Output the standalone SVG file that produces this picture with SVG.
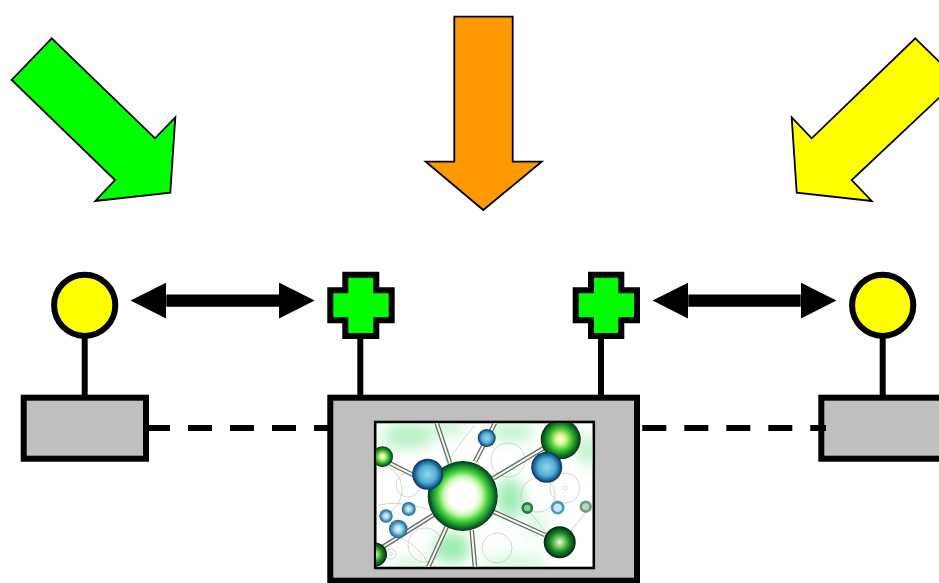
<svg xmlns="http://www.w3.org/2000/svg" width="939" height="583" viewBox="0 0 939 583">
  <style>
    .big { stroke: #000; stroke-width: 1.8; stroke-linejoin: miter; }
    .heavy { stroke: #000; stroke-width: 6; }
    .grey { fill: #bfbfbf; }
    .term { fill: #ffff00; }
    .plus { fill: #00ff00; }
    .stem { stroke: #000; stroke-width: 6; fill: none; }
    .dash { stroke: #000; stroke-width: 6; fill: none; stroke-dasharray: 24 18; }
    .link { stroke: #000; stroke-width: 12.4; fill: none; marker-start: url(#head); marker-end: url(#head); }
    .ring { fill: none; stroke: #b9c9bb; stroke-width: 1; opacity: .7; }
  </style>
  <defs>
    <marker id="head" markerUnits="userSpaceOnUse" markerWidth="36" markerHeight="36" viewBox="0 0 36 36" refX="0" refY="18" orient="auto-start-reverse">
      <path d="M0 0L35.7 18L0 36z" fill="#000"/>
    </marker>
    <radialGradient id="gBig">
      <stop offset="0" stop-color="#fff"/>
      <stop offset=".4" stop-color="#fff"/>
      <stop offset=".56" stop-color="#c2f7a6"/>
      <stop offset=".72" stop-color="#45d03c"/>
      <stop offset=".87" stop-color="#138a2c"/>
      <stop offset="1" stop-color="#04301a"/>
    </radialGradient>
    <radialGradient id="gMid">
      <stop offset="0" stop-color="#fbffe8"/>
      <stop offset=".25" stop-color="#d2f78e"/>
      <stop offset=".58" stop-color="#38bc2d"/>
      <stop offset=".84" stop-color="#0c6c22"/>
      <stop offset="1" stop-color="#032c12"/>
    </radialGradient>
    <radialGradient id="gDark">
      <stop offset="0" stop-color="#f4f8dc"/>
      <stop offset=".28" stop-color="#88d06e"/>
      <stop offset=".6" stop-color="#1b8a2e"/>
      <stop offset=".85" stop-color="#075017"/>
      <stop offset="1" stop-color="#02200c"/>
    </radialGradient>
    <radialGradient id="bBall">
      <stop offset="0" stop-color="#8ed8ec"/>
      <stop offset=".55" stop-color="#55afd6"/>
      <stop offset=".82" stop-color="#1c6a9e"/>
      <stop offset="1" stop-color="#0a2c52"/>
    </radialGradient>
    <radialGradient id="bSmall">
      <stop offset="0" stop-color="#e8f8ff"/>
      <stop offset=".4" stop-color="#a4d8ee"/>
      <stop offset=".75" stop-color="#3f8fbd"/>
      <stop offset="1" stop-color="#235f88"/>
    </radialGradient>
    <filter id="soft" x="-40%" y="-40%" width="180%" height="180%"><feGaussianBlur stdDeviation="7"/></filter>
    <filter id="tiny" x="-10%" y="-10%" width="120%" height="120%"><feGaussianBlur stdDeviation=".5"/></filter>
    <clipPath id="pic"><rect x="376" y="423" width="217" height="144"/></clipPath>
    <g id="bonds">
      <line x1="436.7" y1="423" x2="450" y2="463"/>
      <line x1="475" y1="461.7" x2="495" y2="423"/>
      <line x1="493.3" y1="478.3" x2="543.3" y2="448.3"/>
      <line x1="493.3" y1="511.7" x2="545" y2="535"/>
      <line x1="471.7" y1="530" x2="475" y2="567"/>
      <line x1="446.7" y1="526.7" x2="428.3" y2="567"/>
      <line x1="433.3" y1="515" x2="378" y2="550"/>
      <line x1="390" y1="463.3" x2="413.3" y2="475"/>
    </g>
  </defs>

  <rect width="939" height="583" fill="#fff"/>

  <g id="arrow-green"><polygon class="big" fill="#00ff00" points="51.7,38.3 11.7,80 115,180 95.3,201 170.3,192.7 175.3,117.3 155,138.3"/></g>
  <g id="arrow-orange"><polygon class="big" fill="#ff9900" points="454.3,16.7 512.7,16.7 512.7,161.7 541.7,161.7 483.3,210 425.7,161.7 454.3,161.7"/></g>
  <g id="arrow-yellow"><polygon class="big" fill="#ffff00" points="915.3,38.3 958,80 851.7,180 871.7,201 796.7,192.7 791.7,117.3 811.7,138.3"/></g>

  <g id="connectors">
    <line class="stem" x1="84.7" y1="336" x2="84.7" y2="398"/>
    <line class="stem" x1="360.3" y1="336" x2="360.3" y2="398"/>
    <line class="stem" x1="601" y1="336" x2="601" y2="398"/>
    <line class="stem" x1="882.7" y1="336" x2="882.7" y2="398"/>
    <line class="link" x1="166.3" y1="300.6" x2="279" y2="300.6"/>
    <line class="link" x1="688.3" y1="300.6" x2="800.7" y2="300.6"/>
  </g>

  <g id="terminal-left"><circle class="heavy term" cx="84.7" cy="305.3" r="30.6"/></g>
  <g id="terminal-right"><circle class="heavy term" cx="882.7" cy="305.3" r="30.6"/></g>
  <g id="plus-left"><polygon class="heavy plus" points="345.3,274.7 376.3,274.7 376.3,290.3 391.7,290.3 391.7,320.3 376.3,320.3 376.3,336 345.3,336 345.3,320.3 330.3,320.3 330.3,290.3 345.3,290.3"/></g>
  <g id="plus-right"><polygon class="heavy plus" points="591,274.7 621.3,274.7 621.3,290.3 637,290.3 637,320.3 621.3,320.3 621.3,336 591,336 591,320.3 575.7,320.3 575.7,290.3 591,290.3"/></g>
  <g id="box-left"><rect class="heavy grey" x="23.7" y="397.7" width="122.3" height="61"/></g>
  <g id="box-right"><rect class="heavy grey" x="821.3" y="397.7" width="140" height="61"/></g>

  <g id="box-center">
    <rect class="heavy grey" x="330.3" y="397.7" width="306.7" height="183"/>
    <rect x="375.2" y="422" width="218.6" height="146" fill="#fff" stroke="#000" stroke-width="2.6"/>
    <g clip-path="url(#pic)">
      <g filter="url(#soft)" fill="#86e8a0">
        <ellipse cx="408" cy="436" rx="26" ry="13" opacity=".6"/>
        <ellipse cx="448" cy="428" rx="18" ry="8" opacity=".45"/>
        <ellipse cx="510" cy="498" rx="14" ry="20" opacity=".8"/>
        <ellipse cx="512" cy="432" rx="22" ry="10" opacity=".5"/>
        <ellipse cx="588" cy="450" rx="12" ry="16" opacity=".5"/>
        <ellipse cx="452" cy="548" rx="18" ry="15" opacity=".85"/>
        <ellipse cx="515" cy="562" rx="34" ry="8" opacity=".35"/>
        <ellipse cx="410" cy="566" rx="18" ry="6" opacity=".45"/>
        <ellipse cx="536" cy="525" rx="12" ry="12" opacity=".3"/>
      </g>
      <g filter="url(#tiny)">
        <circle class="ring" cx="508" cy="460" r="17"/>
        <circle class="ring" cx="565" cy="488" r="15"/>
        <circle class="ring" cx="538" cy="495" r="17"/>
        <circle class="ring" cx="497" cy="548" r="15"/>
        <circle class="ring" cx="408" cy="485" r="12"/>
        <circle class="ring" cx="376" cy="490" r="26"/>
        <circle class="ring" cx="391" cy="554" r="5"/>
        <circle class="ring" cx="391" cy="554" r="1.5"/>
        <circle class="ring" cx="425" cy="545" r="17"/>
        <circle class="ring" cx="565" cy="488" r="2"/>
        <path class="ring" d="M527 508L548 535M586 512L570 532M378 505Q400 500 430 510M395 535Q420 545 430 567M448 462Q462 440 475 425"/>
      </g>
      <g filter="url(#tiny)">
        <use href="#bonds" stroke="#666c66" stroke-width="4.6" fill="none"/>
        <use href="#bonds" stroke="#f8f8f4" stroke-width="2" fill="none"/>
      </g>
      <g filter="url(#tiny)">
        <circle cx="382.5" cy="456.7" r="10.5" fill="url(#gMid)"/>
        <circle cx="375" cy="554.5" r="12" fill="url(#gDark)"/>
        <circle cx="462.7" cy="496" r="35" fill="url(#gBig)"/>
        <circle cx="427.7" cy="474.3" r="15.5" fill="url(#bBall)"/>
        <circle cx="486.7" cy="438" r="9" fill="url(#bBall)"/>
        <circle cx="560.7" cy="439.3" r="20" fill="url(#gMid)"/>
        <circle cx="546.7" cy="467.3" r="15.5" fill="url(#bBall)"/>
        <circle cx="408.7" cy="509" r="7" fill="url(#bSmall)"/>
        <circle cx="386" cy="516" r="6.7" fill="url(#bSmall)"/>
        <circle cx="398.3" cy="529" r="9.3" fill="url(#bSmall)"/>
        <circle cx="527.3" cy="508" r="4.6" fill="#8fc79b" stroke="#1f7d3e" stroke-width="2.6"/>
        <circle cx="557.7" cy="507.7" r="5.6" fill="#c4e6f5" stroke="#4b95c2" stroke-width="2.6"/>
        <circle cx="585.7" cy="506.7" r="4.8" fill="#c5d6c8" stroke="#6f9a7d" stroke-width="2.8"/>
        <circle cx="559.7" cy="542.3" r="16" fill="url(#gDark)"/>
      </g>
    </g>
  </g>

  <g id="dashed-connectors">
    <line class="dash" stroke-dashoffset="3" x1="149" y1="428" x2="328" y2="428"/>
    <line class="dash" x1="642.3" y1="428" x2="826" y2="428"/>
  </g>
</svg>
